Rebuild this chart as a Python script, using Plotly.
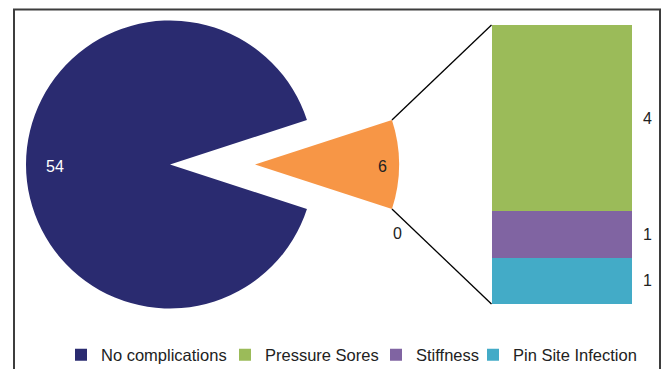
import math
import plotly.graph_objects as go

# ---------------- data ----------------
main_labels = ["No complications", "Complications"]
main_values = [54, 6]
sub_labels = ["Pressure Sores", "Stiffness", "Pin Site Infection"]
sub_values = [4, 1, 1]
stray_label = [0]

main_colors = ["#2a2b70", "#f79646"]
sub_colors = ["#9bbb59", "#8064a2", "#43abc7"]

# ---------------- layout geometry (pixels) ----------------
W, H = 664, 369
cx, cy, R = 170, 164.5, 144     # main pie centre / radius
pull_px = 85                     # how far the small slice is pulled out
bar_x0, bar_x1 = 491.5, 632
bar_y0, bar_y1 = 25, 304
legend_x = [61, 225, 376, 473]   # left edge of each legend entry (px)
legend_y = 355
FONT = "Liberation Sans, Arial, sans-serif"


def px(x):
    return x / W


def py(y):
    return 1 - y / H


total = sum(main_values)
half = 360 * main_values[1] / total / 2   # half angle of the small slice

fig = go.Figure()

# main pie: big slice visible, small slice transparent
fig.add_trace(go.Pie(
    labels=main_labels, values=main_values, sort=False,
    direction="counterclockwise", rotation=90 + half,
    marker=dict(colors=[main_colors[0], "rgba(0,0,0,0)"], line=dict(width=0)),
    textinfo="none", showlegend=False, hoverinfo="label+value",
    domain=dict(x=[px(cx - R), px(cx + R)], y=[py(cy + R), py(cy - R)]),
))
# pulled-out slice drawn as its own pie, shifted right
cx2 = cx + pull_px
fig.add_trace(go.Pie(
    labels=main_labels[::-1], values=main_values[::-1], sort=False,
    direction="counterclockwise", rotation=90 - half,
    marker=dict(colors=[main_colors[1], "rgba(0,0,0,0)"], line=dict(width=0)),
    textinfo="none", showlegend=False, hoverinfo="label+value",
    domain=dict(x=[px(cx2 - R), px(cx2 + R)], y=[py(cy + R), py(cy - R)]),
))

legend_names = ["legend", "legend2", "legend3", "legend4"]

# legend entry for the big slice (zero-height bar)
fig.add_trace(go.Bar(
    x=[0], y=[0], name=main_labels[0], marker=dict(color=main_colors[0], line=dict(width=0)),
    xaxis="x2", yaxis="y2", legend=legend_names[0], hoverinfo="skip",
))
# stacked bar: bottom first
order = list(range(len(sub_values)))[::-1]
for i in order:
    fig.add_trace(go.Bar(
        x=[0], y=[sub_values[i]], name=sub_labels[i], width=1,
        marker=dict(color=sub_colors[i], line=dict(width=0)),
        xaxis="x2", yaxis="y2", legend=legend_names[i + 1],
    ))

annotations = []
# label positions on the pies
annotations.append(dict(x=px(cx - 0.875 * R), y=py(cy + 1.5), xref="paper", yref="paper",
                        text=str(main_values[0]), showarrow=False,
                        font=dict(color="white", size=16, family=FONT)))
annotations.append(dict(x=px(382), y=py(cy + 2), xref="paper", yref="paper",
                        text=str(main_values[1]), showarrow=False,
                        font=dict(color="#222", size=16, family=FONT)))
annotations.append(dict(x=px(397), y=py(233), xref="paper", yref="paper",
                        text=str(stray_label[0]), showarrow=False,
                        font=dict(color="#222", size=16, family=FONT)))
# bar segment labels
base = 0
for i in order:
    mid = base + sub_values[i] / 2
    base += sub_values[i]
    annotations.append(dict(x=0.5, y=mid, xref="x2", yref="y2", xshift=15,
                            text=str(sub_values[i]), showarrow=False,
                            font=dict(color="#222", size=16, family=FONT)))

# connector lines from slice corners to bar corners
a = math.radians(half)
sx = cx2 + R * math.cos(a)
sy_top = cy - R * math.sin(a)
sy_bot = cy + R * math.sin(a)
shapes = [
    dict(type="line", xref="paper", yref="paper", x0=px(sx), y0=py(sy_top),
         x1=px(bar_x0), y1=py(bar_y0), line=dict(color="black", width=1.3)),
    dict(type="line", xref="paper", yref="paper", x0=px(sx), y0=py(sy_bot),
         x1=px(bar_x0), y1=py(bar_y1), line=dict(color="black", width=1.3)),
    dict(type="rect", xref="paper", yref="paper", x0=px(14), y0=py(380),
         x1=px(660), y1=py(9.5), line=dict(color="#3d3d3d", width=2),
         fillcolor="rgba(0,0,0,0)", layer="above"),
]

legend_cfg = {}
for name, lx in zip(legend_names, legend_x):
    legend_cfg[name] = dict(orientation="h", x=px(lx), xanchor="left", y=py(legend_y),
                            yanchor="middle", font=dict(size=16.5, color="#222", family=FONT),
                            itemwidth=30, bgcolor="rgba(0,0,0,0)")

fig.update_layout(
    width=W, height=H, margin=dict(l=0, r=0, t=0, b=0, autoexpand=False),
    paper_bgcolor="white", plot_bgcolor="rgba(0,0,0,0)",
    barmode="stack", bargap=0,
    xaxis=dict(visible=False), yaxis=dict(visible=False),
    xaxis2=dict(domain=[px(bar_x0), px(bar_x1)], range=[-0.5, 0.5], visible=False,
                anchor="y2", fixedrange=True),
    yaxis2=dict(domain=[py(bar_y1), py(bar_y0)], range=[0, sum(sub_values)], visible=False,
                anchor="x2", fixedrange=True),
    showlegend=True,
    annotations=annotations, shapes=shapes,
    font=dict(family=FONT),
    **legend_cfg,
)

fig.write_html("out.html")
